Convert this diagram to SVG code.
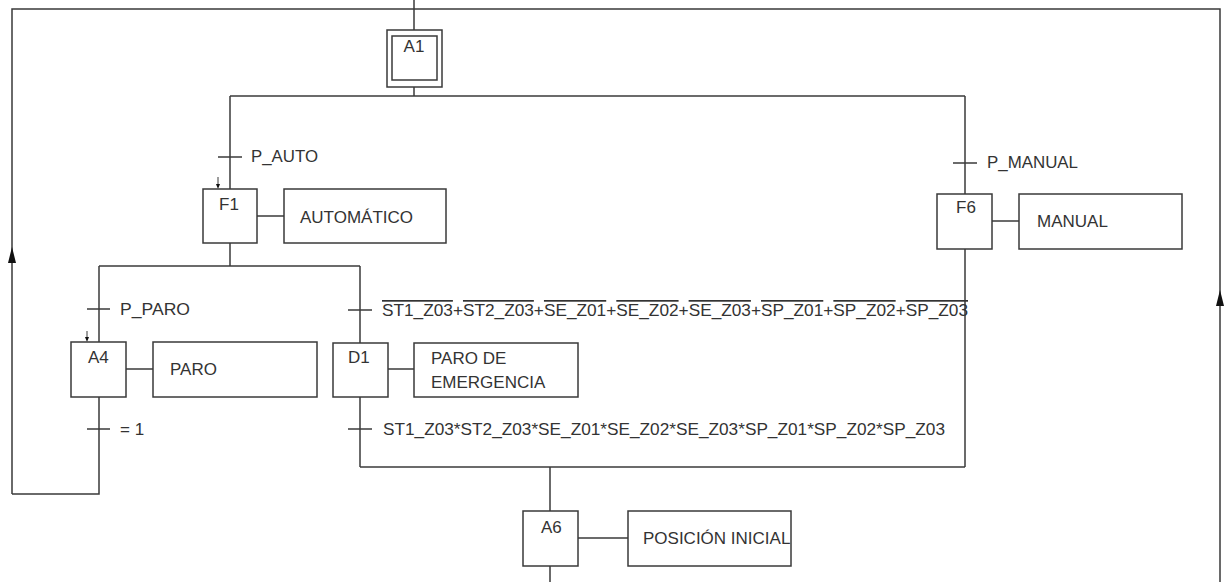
<svg xmlns="http://www.w3.org/2000/svg" width="1225" height="582" viewBox="0 0 1225 582">
<style>
  .ln { stroke:#3a3a3a; stroke-width:1.5; fill:none; }
  .box { stroke:#3a3a3a; stroke-width:1.5; fill:#ffffff; }
  .t { font-family:"Liberation Sans", Arial, sans-serif; font-size:17px; fill:#333333; }
  .ol { text-decoration:overline; }
  .ah { fill:#111111; }
</style>
<rect width="1225" height="582" fill="#ffffff"/>

<g id="connectors">
  <!-- top loop -->
  <path class="ln" d="M414,0 V30"/>
  <path class="ln" d="M12,494 V9 H1220 V582"/>
  <path class="ah" d="M12,247 L8,263 L16,263 Z"/>
  <path class="ah" d="M1220,290 L1216,306 L1224,306 Z"/>
  <!-- A1 to divergence -->
  <path class="ln" d="M414,87 V96"/>
  <path class="ln" d="M230,96 H965"/>
  <!-- F1 branch -->
  <path class="ln" d="M230,96 V189"/>
  <path class="ln" d="M230,243 V266"/>
  <path class="ln" d="M99,266 H360"/>
  <!-- A4 branch -->
  <path class="ln" d="M99,266 V342"/>
  <path class="ln" d="M99,397 V494 H12"/>
  <!-- D1 branch -->
  <path class="ln" d="M360,266 V343"/>
  <path class="ln" d="M360,397 V467"/>
  <!-- F6 branch -->
  <path class="ln" d="M965,96 V194"/>
  <path class="ln" d="M965,249 V467"/>
  <!-- convergence -->
  <path class="ln" d="M360,467 H965"/>
  <path class="ln" d="M550,467 V511"/>
  <path class="ln" d="M550,566 V582"/>
  <!-- action links -->
  <path class="ln" d="M257,216 H284"/>
  <path class="ln" d="M126,369 H153"/>
  <path class="ln" d="M388,369 H414"/>
  <path class="ln" d="M992,221 H1019"/>
  <path class="ln" d="M578,538 H628"/>
  <!-- small arrows (initial marks) -->
  <path class="ln" d="M218,177 V184" style="stroke-width:1"/>
  <path class="ah" d="M216,184 L220,184 L218,189 Z"/>
  <path class="ln" d="M87,331 V337" style="stroke-width:1"/>
  <path class="ah" d="M85,337 L89,337 L87,342 Z"/>
</g>

<g id="t-p-auto">
  <path class="ln" d="M218,157 H242"/>
  <text class="t" x="251" y="162" textLength="67" lengthAdjust="spacingAndGlyphs">P_AUTO</text>
</g>
<g id="t-p-manual">
  <path class="ln" d="M953,163 H977"/>
  <text class="t" x="987" y="168" textLength="91" lengthAdjust="spacingAndGlyphs">P_MANUAL</text>
</g>
<g id="t-p-paro">
  <path class="ln" d="M87,309 H110"/>
  <text class="t" x="120" y="315" textLength="70" lengthAdjust="spacingAndGlyphs">P_PARO</text>
</g>
<g id="t-emergency">
  <path class="ln" d="M348,310 H372"/>
  <text class="t" x="382" y="316" textLength="586" lengthAdjust="spacingAndGlyphs"><tspan class="ol">ST1_Z03</tspan>+<tspan class="ol">ST2_Z03</tspan>+<tspan class="ol">SE_Z01</tspan>+<tspan class="ol">SE_Z02</tspan>+<tspan class="ol">SE_Z03</tspan>+<tspan class="ol">SP_Z01</tspan>+<tspan class="ol">SP_Z02</tspan>+<tspan class="ol">SP_Z03</tspan></text>
</g>
<g id="t-eq1">
  <path class="ln" d="M87,429 H110"/>
  <text class="t" x="120" y="435">= 1</text>
</g>
<g id="t-reset">
  <path class="ln" d="M348,429 H372"/>
  <text class="t" x="383" y="435" textLength="562" lengthAdjust="spacingAndGlyphs">ST1_Z03*ST2_Z03*SE_Z01*SE_Z02*SE_Z03*SP_Z01*SP_Z02*SP_Z03</text>
</g>

<g id="step-A1">
  <rect class="box" x="387" y="30" width="55" height="57"/>
  <rect class="box" x="392" y="36" width="45" height="44"/>
  <text class="t" x="414" y="52" text-anchor="middle">A1</text>
</g>
<g id="step-F1">
  <rect class="box" x="203" y="189" width="54" height="54"/>
  <text class="t" x="219" y="210">F1</text>
</g>
<g id="action-F1">
  <rect class="box" x="284" y="189" width="162" height="54"/>
  <text class="t" x="300" y="223">AUTOMÁTICO</text>
</g>
<g id="step-F6">
  <rect class="box" x="937" y="194" width="55" height="55"/>
  <text class="t" x="956" y="213">F6</text>
</g>
<g id="action-F6">
  <rect class="box" x="1019" y="194" width="163" height="55"/>
  <text class="t" x="1037" y="227">MANUAL</text>
</g>
<g id="step-A4">
  <rect class="box" x="71" y="342" width="55" height="55"/>
  <text class="t" x="88" y="363">A4</text>
</g>
<g id="action-A4">
  <rect class="box" x="153" y="342" width="164" height="55"/>
  <text class="t" x="170" y="375">PARO</text>
</g>
<g id="step-D1">
  <rect class="box" x="333" y="343" width="55" height="54"/>
  <text class="t" x="348" y="363">D1</text>
</g>
<g id="action-D1">
  <rect class="box" x="414" y="343" width="164" height="54"/>
  <text class="t" x="431" y="364">PARO DE</text>
  <text class="t" x="431" y="388">EMERGENCIA</text>
</g>
<g id="step-A6">
  <rect class="box" x="523" y="511" width="55" height="55"/>
  <text class="t" x="541" y="533">A6</text>
</g>
<g id="action-A6">
  <rect class="box" x="628" y="511" width="163" height="55"/>
  <text class="t" x="643" y="544">POSICIÓN INICIAL</text>
</g>
</svg>
